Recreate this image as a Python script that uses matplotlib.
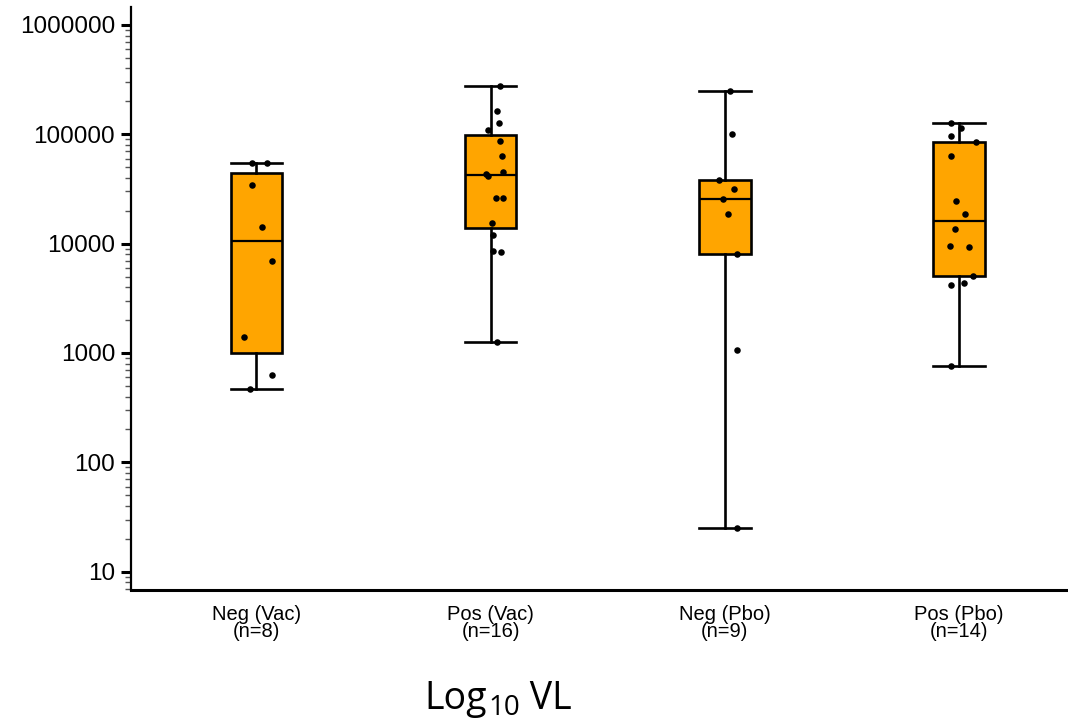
import numpy as np
import matplotlib
matplotlib.use("Agg")
import matplotlib.pyplot as plt
from matplotlib.ticker import LogLocator, NullFormatter
from matplotlib.transforms import offset_copy

# ---------------- data ----------------
categories = ["Neg (Vac)\n(n=8)", "Pos (Vac)\n(n=16)", "Neg (Pbo)\n(n=9)", "Pos (Pbo)\n(n=14)"]

neg_vac = [54200, 54200, 34300, 14100, 6890, 1393, 628, 471]
pos_vac = [277000, 163700, 127000, 110400, 86300, 63700, 45500, 43600, 41200,
           25900, 26200, 15500, 12100, 8630, 8450, 1254]
neg_pbo = [248000, 101000, 37900, 31800, 25500, 18700, 8090, 1060, 24.9]
pos_pbo = [126200, 113500, 96600, 85700, 63200, 24800, 18700, 13500, 9590,
           9250, 5080, 4410, 4180, 760]

# horizontal jitter of each dot
jit_neg_vac = [-0.019, 0.045, -0.019, 0.023, 0.066, -0.053, 0.066, -0.028]
jit_pos_vac = [0.041, 0.026, 0.037, -0.013, 0.041, 0.047, 0.051, -0.021, -0.009,
               0.024, 0.054, 0.004, 0.009, 0.009, 0.043, 0.029]
jit_neg_pbo = [0.021, 0.029, -0.026, 0.038, -0.006, 0.013, 0.054, 0.051, 0.051]
jit_pos_pbo = [-0.035, 0.009, -0.034, 0.072, -0.034, -0.013, 0.026, -0.017, -0.038,
               0.043, 0.060, 0.021, -0.034, -0.034]

ytick_values = [10, 100, 1000, 10000, 100000, 1000000]
ytick_labels = ["10", "100", "1000", "10000", "100000", "1000000"]

groups = [neg_vac, pos_vac, neg_pbo, pos_pbo]
jitters = [jit_neg_vac, jit_pos_vac, jit_neg_pbo, jit_pos_pbo]


def fivenum(x):
    x = np.sort(np.asarray(x, dtype=float))
    n = len(x)
    n4 = np.floor((n + 3) / 2) / 2
    d = np.array([1, n4, (n + 1) / 2, n + 1 - n4, n]) - 1
    return 0.5 * (x[np.floor(d).astype(int)] + x[np.ceil(d).astype(int)])


stats = []
for g in groups:
    lo, q1, med, q3, hi = fivenum(g)
    stats.append(dict(med=med, q1=q1, q3=q3, whislo=lo, whishi=hi, fliers=[]))

# ---------------- figure ----------------
W, H = 1068, 723
fig = plt.figure(figsize=(W / 100, H / 100), dpi=100)
ax = fig.add_axes([131 / W, (H - 590) / H, (W - 131) / W, (590 - 7) / H])

positions = np.arange(1, len(groups) + 1)
lw = 1.9
ax.bxp(stats, positions=positions, widths=0.22, patch_artist=True,
       showfliers=False,
       boxprops=dict(facecolor="#FFA500", edgecolor="black", linewidth=lw),
       medianprops=dict(color="black", linewidth=1.6),
       whiskerprops=dict(color="black", linewidth=lw),
       capprops=dict(color="black", linewidth=lw),
       capwidths=0.22)

for p, g, j in zip(positions, groups, jitters):
    ax.plot(p + np.asarray(j), g, "o", color="black", markersize=4.7,
            markeredgewidth=0, zorder=5, linestyle="none")

ax.set_yscale("log")
ax.set_ylim(6.8, 1.46e6)
ax.set_xlim(0.465, 4.465)

ax.set_yticks(ytick_values)
ax.set_yticklabels(ytick_labels, fontfamily="Liberation Sans", fontsize=17.5)
ax.yaxis.set_minor_locator(LogLocator(base=10, subs=np.arange(2, 10), numticks=20))
ax.yaxis.set_minor_formatter(NullFormatter())
ax.tick_params(axis="y", which="major", direction="out", length=7.5, width=2.2,
               color="black", pad=4)
ax.tick_params(axis="y", which="minor", direction="out", length=4.3, width=1.0,
               color="#555555")

ax.set_xticks(positions)
ax.set_xticklabels(categories, fontfamily="Liberation Sans", fontsize=14.5,
                   linespacing=0.88)
ax.tick_params(axis="x", which="both", length=0, pad=11)
ax.xaxis.set_minor_locator(plt.NullLocator())

for s in ["top", "right"]:
    ax.spines[s].set_visible(False)
ax.spines["left"].set_linewidth(1.6)
ax.spines["bottom"].set_linewidth(2.2)
ax.patch.set_visible(False)

# x-axis title "Log10 VL" built from three pieces (large subscript)
renderer = fig.canvas.get_renderer()
x0, y0 = 424 / W, (H - 709) / H
t1 = fig.text(x0, y0, "Log", ha="left", va="baseline",
              fontfamily="Open Sans", fontsize=27)
bb1 = t1.get_window_extent(renderer)
t2 = fig.text(0, 0, "10", ha="left", va="baseline", fontfamily="Open Sans", fontsize=20,
              transform=offset_copy(fig.transFigure, fig=fig,
                                    x=bb1.x1 / 100 * 72 + 1.0, y=y0 * H / 100 * 72 - 4.0,
                                    units="points"))
bb2 = t2.get_window_extent(renderer)
t3 = fig.text(0, 0, " VL", ha="left", va="baseline", fontfamily="Open Sans", fontsize=27,
              transform=offset_copy(fig.transFigure, fig=fig,
                                    x=bb2.x1 / 100 * 72, y=y0 * H / 100 * 72,
                                    units="points"))

fig.savefig("out.png", dpi=100)
